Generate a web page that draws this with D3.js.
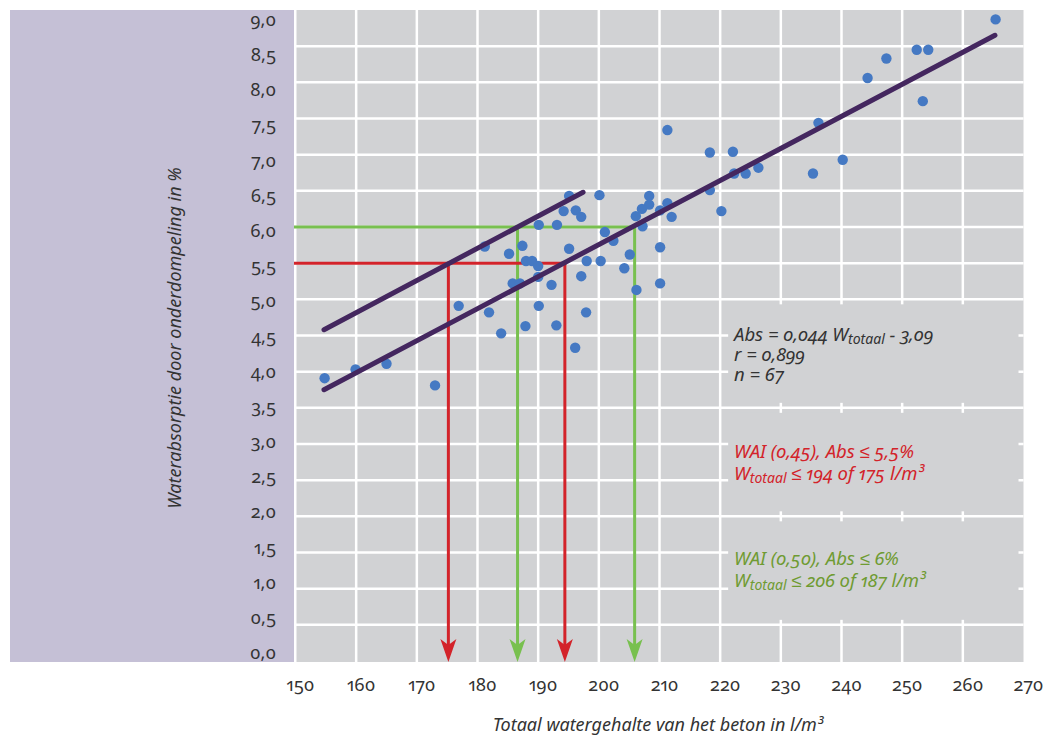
<!DOCTYPE html>
<html>
<head>
<meta charset="utf-8">
<script src="https://cdn.jsdelivr.net/npm/d3@7"></script>
<style>
body { margin: 0; background: #fff; }
text { font-family: "Noto Sans", sans-serif; font-variant-numeric: oldstyle-nums proportional-nums; fill: #333; }
</style>
</head>
<body>
<svg width="1056" height="736"></svg>
<script>
// totaal watergehalte (l/m3) en waterabsorptie (%) per meting
const waterContent = [154.8, 159.9, 165.0, 173.0, 176.9, 181.9, 181.2, 185.2, 187.4, 190.1,
  193.1, 195.1, 194.2, 196.2, 197.1, 200.1, 195.1, 188.0, 189.0, 190.0,
  190.0, 185.8, 187.0, 192.2, 197.1, 198.0, 200.3, 201.0, 202.4, 204.2,
  205.1, 206.1, 207.1, 207.2, 208.3, 208.3, 210.1, 211.3, 212.0, 210.1,
  210.1, 206.2, 183.9, 187.9, 190.1, 193.0, 197.9, 196.1, 211.3, 218.3,
  222.1, 222.3, 224.2, 226.3, 218.3, 220.2, 235.3, 240.2, 265.4, 252.4,
  254.3, 247.4, 244.3, 253.4, 236.2];
const absorption = [3.91, 4.03, 4.11, 3.81, 4.91, 4.82, 5.73, 5.63, 5.74, 6.03,
  6.03, 6.43, 6.22, 6.23, 6.14, 6.44, 5.70, 5.53, 5.53, 5.46,
  5.31, 5.22, 5.22, 5.20, 5.32, 5.53, 5.53, 5.93, 5.81, 5.43,
  5.62, 6.15, 6.25, 6.01, 6.43, 6.31, 6.23, 6.33, 6.14, 5.72,
  5.22, 5.13, 4.53, 4.63, 4.91, 4.64, 4.82, 4.33, 7.34, 7.03,
  7.04, 6.74, 6.74, 6.82, 6.51, 6.22, 6.74, 6.93, 8.87, 8.45,
  8.45, 8.33, 8.06, 7.74, 7.44];

// regressielijn en verschoven lijn (begin- en eindpunt)
const regressionLine = [[154.7, 3.75], [265.3, 8.65]];
const upperLine = [[154.7, 4.58], [197.4, 6.48]];

// WAI-grenzen
const redAbs = 5.5;
const redW = [175.2, 194.4];
const greenAbs = 6.0;
const greenW = [186.6, 205.9];

const xTicks = [150, 160, 170, 180, 190, 200, 210, 220, 230, 240, 250, 260, 270];
const yTicks = [0, 0.5, 1, 1.5, 2, 2.5, 3, 3.5, 4, 4.5, 5, 5.5, 6, 6.5, 7, 7.5, 8, 8.5, 9];

const RED = "#d3232a", GREEN = "#78c04f", PURPLE = "#44275f", BLUE = "#4579c3";
const GREEN_TEXT = "#6f9b32";

const svg = d3.select("svg");
const x = d3.scaleLinear().domain([150, 270]).range([295.5, 1023.5]);
const y = d3.scaleLinear().domain([0, 9]).range([661, 10]);
// labels sit slightly off the grid in the original
const xLab = d3.scaleLinear().domain([150, 270]).range([300, 1028]);
const yLab = d3.scaleLinear().domain([0, 9]).range([653, 19.5]);
const comma = d => d3.format(".1f")(d).replace(".", ",");

svg.append("rect").attr("x", 10).attr("y", 10).attr("width", 284).attr("height", 652).attr("fill", "#c5c0d6");
svg.append("rect").attr("x", x(150) + 1).attr("y", 10).attr("width", x(270) - x(150) - 1).attr("height", 652).attr("fill", "#d1d2d4");

const grid = svg.append("g").attr("stroke", "#fff").attr("stroke-width", 2.5);
grid.selectAll(".v").data(xTicks.slice(1, -1)).join("line")
  .attr("x1", d => x(d)).attr("x2", d => x(d)).attr("y1", 10).attr("y2", 662);
grid.selectAll(".h").data(yTicks.slice(1, -1)).join("line")
  .attr("x1", x(150)).attr("x2", x(270)).attr("y1", d => y(d)).attr("y2", d => y(d));

// tekstvakken die het raster afdekken
const boxes = [[5.0, 3.5], [3.5, 2.0], [2.0, 0.5]];
svg.append("g").selectAll("rect").data(boxes).join("rect")
  .attr("x", x(220) + 8).attr("width", x(270) - x(220) - 13)
  .attr("y", d => y(d[0]) + 5).attr("height", d => y(d[1]) - y(d[0]) - 10)
  .attr("fill", "#d1d2d4");

// hulplijnen met pijlen
function limitLines(abs, ws, color) {
  const g = svg.append("g").attr("stroke", color).attr("stroke-width", 3).attr("fill", "none");
  g.append("line").attr("x1", 294).attr("x2", x(d3.max(ws)) + 1.5).attr("y1", y(abs)).attr("y2", y(abs));
  g.selectAll(".vl").data(ws).join("line")
    .attr("x1", d => x(d)).attr("x2", d => x(d)).attr("y1", y(abs) - 1.5).attr("y2", 646);
  svg.append("g").selectAll("path").data(ws).join("path")
    .attr("fill", color)
    .attr("d", d => `M${x(d)},662 L${x(d) - 8},639 L${x(d)},645 L${x(d) + 8},639 Z`);
}
limitLines(greenAbs, greenW, GREEN);
limitLines(redAbs, redW, RED);

svg.append("g").selectAll("circle").data(d3.zip(waterContent, absorption)).join("circle")
  .attr("cx", d => x(d[0])).attr("cy", d => y(d[1])).attr("r", 5.2).attr("fill", BLUE);

const line = d3.line().x(d => x(d[0])).y(d => y(d[1]));
[regressionLine, upperLine].forEach(l => {
  svg.append("path").attr("d", line(l)).attr("stroke", PURPLE).attr("stroke-width", 5)
    .attr("stroke-linecap", "round").attr("fill", "none");
});

// assen
const yAxis = svg.append("g").attr("transform", "translate(283,0)")
  .call(d3.axisLeft(yLab).tickValues(yTicks).tickFormat(comma).tickSize(0).tickPadding(7));
yAxis.select(".domain").remove();
yAxis.selectAll("text").attr("font-size", 18).style("fill", "#333");

const xAxis = svg.append("g").attr("transform", "translate(0,668)")
  .call(d3.axisBottom(xLab).tickValues(xTicks).tickFormat(d3.format("d")).tickSize(0).tickPadding(10));
xAxis.select(".domain").remove();
xAxis.selectAll("text").attr("font-size", 18).style("fill", "#333");

svg.append("text").attr("x", 658).attr("y", 731).attr("text-anchor", "middle")
  .attr("font-size", 18).attr("font-style", "italic")
  .text("Totaal watergehalte van het beton in l/m³");
svg.append("text").attr("transform", "translate(181,338) rotate(-90)").attr("text-anchor", "middle")
  .attr("font-size", 18).attr("font-style", "italic")
  .text("Waterabsorptie door onderdompeling in %");

// annotaties
function wLine(sel, before, after) {
  sel.append("tspan").text(before);
  sel.append("tspan").attr("font-size", 14).attr("dy", 3).text("totaal");
  sel.append("tspan").attr("dy", -3).text(after);
}
const ann = svg.append("g").attr("font-size", 18.5).attr("font-style", "italic");
const tx = 734;
wLine(ann.append("text").attr("x", tx).attr("y", 341), "Abs = 0,044 W", " - 3,09");
ann.append("text").attr("x", tx).attr("y", 361).text("r = 0,899");
ann.append("text").attr("x", tx).attr("y", 381).text("n = 67");

ann.append("text").attr("x", tx).attr("y", 458).style("fill", RED).text("WAI (0,45), Abs ≤ 5,5%");
wLine(ann.append("text").attr("x", tx).attr("y", 480).style("fill", RED), "W", " ≤ 194 of 175 l/m³");

ann.append("text").attr("x", tx).attr("y", 565).style("fill", GREEN_TEXT).text("WAI (0,50), Abs ≤ 6%");
wLine(ann.append("text").attr("x", tx).attr("y", 587).style("fill", GREEN_TEXT), "W", " ≤ 206 of 187 l/m³");
</script>
</body>
</html>
